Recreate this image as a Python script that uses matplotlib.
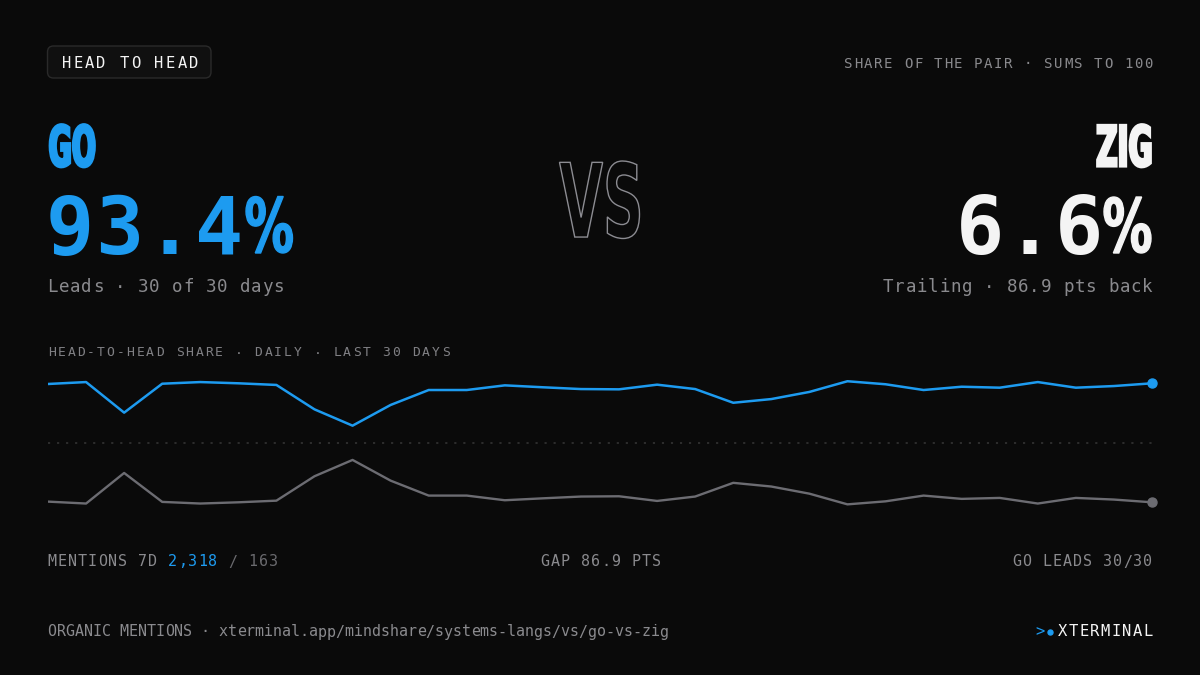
import numpy as np
import matplotlib
matplotlib.use("Agg")
import matplotlib.pyplot as plt
from matplotlib.textpath import TextPath
from matplotlib.font_manager import FontProperties
from matplotlib.patches import PathPatch, FancyBboxPatch
from matplotlib.transforms import Affine2D

# daily head-to-head share, last 30 days (go + zig = 100)
days = np.arange(1, 31)
go_share = [92.9, 94.3, 72.0, 93.1, 94.3, 93.4, 92.2, 74.4, 62.5, 77.6,
            88.5, 88.5, 91.9, 90.5, 89.2, 89.0, 92.4, 89.2, 79.2, 81.9,
            87.1, 94.9, 92.7, 88.5, 90.9, 90.2, 94.3, 90.2, 91.4, 93.4]
zig_share = [7.1, 5.7, 28.0, 6.9, 5.7, 6.6, 7.8, 25.6, 37.5, 22.4,
             11.5, 11.5, 8.1, 9.5, 10.8, 11.0, 7.6, 10.8, 20.8, 18.1,
             12.9, 5.1, 7.3, 11.5, 9.1, 9.8, 5.7, 9.8, 8.6, 6.6]

go_num = "93.4"
zig_num = "6.6"
go_mentions = "2,318"
zig_mentions = "163"

BG = '#0a0a0a'
BLUE = '#1d9bf0'
WHITE = '#f4f4f4'
GREY = '#8a8a8e'
DIM = '#6a6a6e'
LINEGREY = '#6c6c72'
MONO = ['DejaVu Sans Mono', 'DejaVu Sans']

fig = plt.figure(figsize=(12, 6.75), dpi=100, facecolor=BG)
bg = fig.add_axes([0, 0, 1, 1])
bg.set_xlim(0, 1200)
bg.set_ylim(675, 0)
bg.axis('off')
bg.set_facecolor(BG)


def mono(x, y, segs, size, adv, ha='left', weight='normal'):
    # monospace text with tracking, one glyph per cell
    if isinstance(segs, str):
        segs = [(segs, GREY)]
    chars = []
    for s, c in segs:
        chars += [(ch, c) for ch in s]
    n = len(chars)
    gw = 0.55 * size
    if ha == 'left':
        c0 = x + gw / 2
    elif ha == 'right':
        c0 = x - gw / 2 - (n - 1) * adv
    else:
        c0 = x - (n - 1) * adv / 2
    for i, (ch, c) in enumerate(chars):
        if ch == ' ':
            continue
        bg.text(c0 + i * adv, y, ch, fontsize=size * 0.72, color=c,
                family=MONO, ha='center', va='baseline', fontweight=weight)


def block_word(s, x0, y0, x1, y1, face, edge, lw):
    tp = TextPath((0, 0), s, size=100,
                  prop=FontProperties(family='DejaVu Sans', weight='bold'))
    ext = tp.get_extents()
    tr = (Affine2D().translate(-ext.x0, -ext.y0)
          .scale((x1 - x0) / ext.width, -(y1 - y0) / ext.height)
          .translate(x0, y1))
    bg.add_patch(PathPatch(tr.transform_path(tp), facecolor=face,
                           edgecolor=edge, lw=lw, joinstyle='miter'))


# header
bg.add_patch(FancyBboxPatch((47.5, 46), 163.5, 32, boxstyle="round,pad=0,rounding_size=6",
                            facecolor='#101010', edgecolor='#2a2a2a', lw=1))
mono(62, 68.5, [("HEAD TO HEAD", WHITE)], 15.5, 11.6)
mono(1152, 68.5, "SHARE OF THE PAIR · SUMS TO 100", 14, 10.0, ha='right')

# names
block_word("GO", 50, 124.5, 94.5, 167, BLUE, BLUE, 2.0)
block_word("ZIG", 1097.5, 124.5, 1150.5, 167, WHITE, WHITE, 2.0)
block_word("VS", 559.5, 161, 639.5, 238.5, 'none', '#8c8c92', 1.0)

# big numbers
mono(48, 254, [(go_num, BLUE)], 80, 49.6, weight='bold')
block_word("%", 246, 196.5, 292.5, 253, BLUE, BLUE, 1.0)
mono(1101, 254, [(zig_num, WHITE)], 80, 49.6, ha='right', weight='bold')
block_word("%", 1104, 197, 1151, 253, WHITE, WHITE, 1.0)

mono(48, 292.5, "Leads · 30 of 30 days", 17.5, 11.3)
mono(1152, 292.5, "Trailing · 86.9 pts back", 17.5, 11.26, ha='right')

mono(48, 356.5, [("HEAD-TO-HEAD SHARE · DAILY · LAST 30 DAYS", '#808084')], 13, 9.85)

# line chart
ax = fig.add_axes([48 / 1200, 1 - 515.6 / 675, 1104 / 1200, 145.6 / 675])
ax.set_facecolor('none')
ax.axis('off')
ax.set_xlim(days[0], days[-1])
ax.set_ylim(-3.1, 103.1)
ax.axhline(50, color='#303030', lw=1.3, ls=(0, (1.2, 3.8)))
ax.plot(days, zig_share, color=LINEGREY, lw=1.7)
ax.plot(days, go_share, color=BLUE, lw=1.8)
ax.plot(days[-1], zig_share[-1], 'o', ms=6.5, color=LINEGREY, clip_on=False)
ax.plot(days[-1], go_share[-1], 'o', ms=6.5, color=BLUE, clip_on=False)

# footer stats
mono(48, 566.5, [("MENTIONS 7D ", GREY), (go_mentions, BLUE), (" / ", DIM), (zig_mentions, DIM)], 15, 10.05)
mono(600.5, 566.5, "GAP 86.9 PTS", 15, 10.1, ha='center')
mono(1152, 566.5, "GO LEADS 30/30", 15, 10.1, ha='right')

mono(48, 636.5, "ORGANIC MENTIONS · xterminal.app/mindshare/systems-langs/vs/go-vs-zig", 15, 9.0)
mono(1152, 636.5, [("XTERMINAL", WHITE)], 15.5, 10.6, ha='right')
mono(1036, 636.5, [(">", BLUE)], 15.5, 10.6)
bg.plot([1049.5], [631.5], 'o', ms=3.6, color=BLUE)

fig.savefig('out.png', dpi=100, facecolor=BG)
